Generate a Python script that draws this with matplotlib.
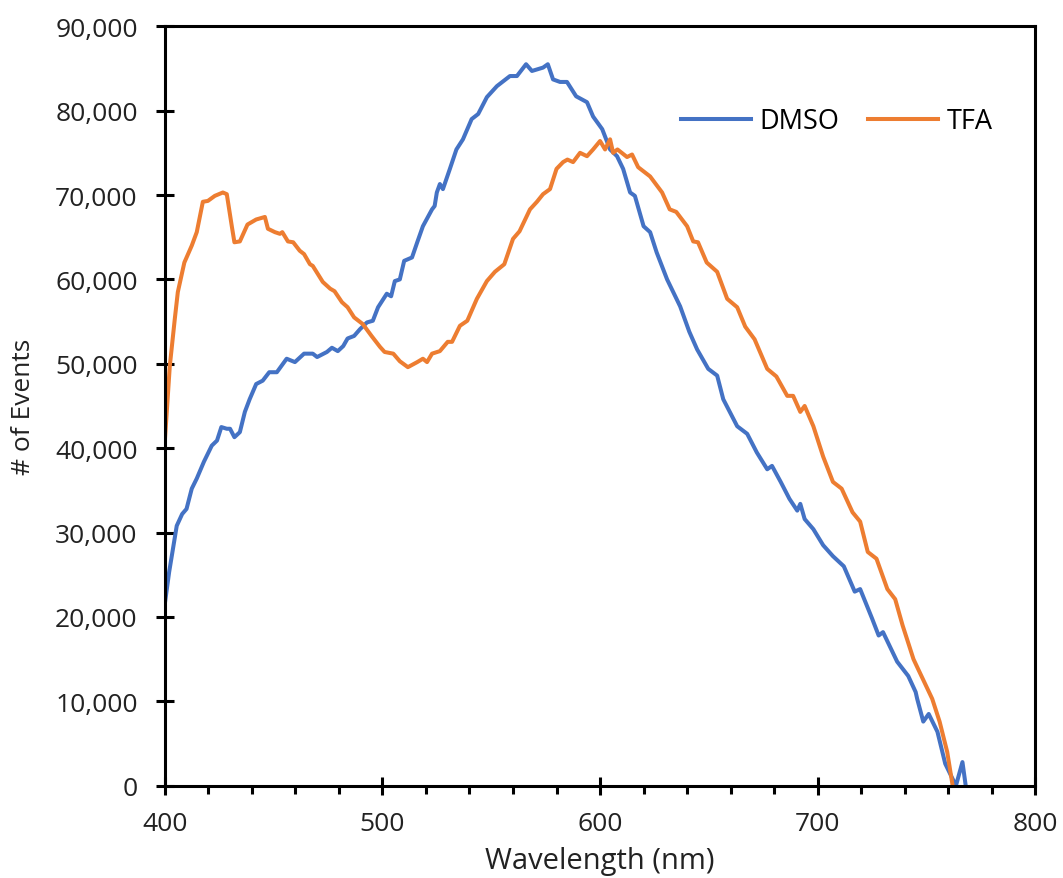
import numpy as np
import matplotlib
matplotlib.use("Agg")
import matplotlib.pyplot as plt
from matplotlib.ticker import MultipleLocator, FuncFormatter

# DMSO curve
dmso_nm = [400, 402, 405.5, 408, 410, 412.4, 414.7, 418, 421.6, 424, 426, 428.5, 430, 432, 434.5,
           436.8, 439, 442, 445, 448, 451.5, 456, 459.8, 464, 468, 470, 474.5, 476.8, 479.5, 482,
           484, 487, 489.7, 492.9, 495.6, 498, 502, 504, 505.7, 508, 510, 513.6, 516, 518.6, 522.8,
           524, 525, 526.4, 527.8, 531, 534, 537, 541, 544, 548, 552.6, 558.6, 561.8, 566, 568.7,
           573.8, 576, 578.4, 581.6, 584.8, 589, 594, 596.8, 601, 604.6, 607.8, 610.6, 613.8, 616,
           620, 623, 626, 630.8, 636.8, 641, 644.6, 649.7, 653.8, 656.6, 663, 667.6, 672, 676.8,
           679, 683, 687, 690.6, 692, 694, 698, 702.5, 707, 712, 717, 719.5, 725, 728, 730, 736.5,
           741.6, 745, 745.7, 748.5, 751, 755, 758.6, 763.5, 766.5, 768]
dmso_counts = [21500, 25300, 30800, 32200, 32800, 35200, 36400, 38400, 40300, 40900, 42500, 42300,
               42300, 41300, 41900, 44300, 45800, 47600, 48000, 49000, 49000, 50600, 50200, 51200,
               51200, 50800, 51400, 51900, 51500, 52100, 53000, 53300, 54100, 54900, 55100, 56700,
               58300, 58000, 59800, 60000, 62200, 62600, 64400, 66300, 68300, 68700, 70300, 71300,
               70700, 73100, 75400, 76600, 79000, 79600, 81600, 82900, 84100, 84100, 85500, 84700,
               85100, 85500, 83700, 83400, 83400, 81700, 81000, 79300, 77800, 75400, 74600, 73100,
               70300, 69900, 66300, 65600, 63200, 60000, 56800, 53800, 51700, 49400, 48600, 45800,
               42600, 41700, 39500, 37500, 37900, 36000, 34000, 32600, 33400, 31600, 30400, 28500,
               27200, 26000, 23000, 23300, 19800, 17800, 18200, 14700, 13000, 11100, 10300, 7600,
               8500, 6400, 2600, 0, 2800, 0]

# TFA curve
tfa_nm = [400, 402.3, 404.6, 406, 409, 412.4, 414.7, 417.5, 419.8, 423, 426.7, 428.5, 430.8, 432,
          434.5, 438, 442, 446, 447.4, 450.6, 452.9, 454, 456.6, 459, 462, 464, 466.7, 468, 472.6,
          476, 478, 481.4, 484, 487, 491, 495, 498.9, 501, 505, 508, 511.7, 516, 518.6, 520.5,
          522.8, 526.4, 530, 532, 535.6, 539, 543.4, 548, 551.7, 556, 560, 563, 567.8, 571, 573.8,
          577, 580, 583, 585, 587.6, 590.8, 594, 596.8, 600, 602.3, 604.6, 606, 608, 612.4, 614.7,
          617.5, 623, 628.5, 632, 635, 640, 642.8, 645, 649, 653.8, 658.4, 663, 666.7, 671, 676.8,
          681, 686, 688.7, 692, 694, 698, 702.5, 707, 711, 716, 719.5, 723, 727, 732, 735.6, 739,
          744, 746, 752.6, 756, 759.5, 762]
tfa_counts = [40700, 49700, 55300, 58500, 62000, 64000, 65600, 69200, 69300, 69900, 70300, 70100,
              66300, 64400, 64500, 66500, 67100, 67400, 66000, 65600, 65400, 65600, 64500, 64400,
              63400, 63000, 61800, 61600, 59700, 58900, 58600, 57300, 56700, 55500, 54700, 53300,
              52000, 51400, 51200, 50300, 49600, 50200, 50600, 50200, 51200, 51500, 52600, 52600,
              54500, 55100, 57700, 59800, 60900, 61800, 64800, 65700, 68300, 69200, 70100, 70700,
              73100, 73900, 74200, 73900, 75000, 74600, 75400, 76400, 75400, 76600, 75000, 75400,
              74500, 74800, 73300, 72200, 70300, 68300, 68000, 66300, 64500, 64400, 62000, 60900,
              57700, 56700, 54400, 52900, 49400, 48500, 46200, 46200, 44300, 45000, 42600, 39000,
              36000, 35200, 32400, 31300, 27700, 26900, 23300, 22100, 19000, 15000, 13900, 10300,
              7600, 4000, 0]

plt.rcParams['font.family'] = ['Open Sans', 'DejaVu Sans']

fig = plt.figure(figsize=(10.63, 8.79), dpi=100)
ax = fig.add_axes([0.155, 0.105, 0.819, 0.864])

ax.plot(dmso_nm, dmso_counts, color='#4472C4', lw=2.9, label='DMSO', solid_joinstyle='round')
ax.plot(tfa_nm, tfa_counts, color='#ED7D31', lw=2.9, label='TFA', solid_joinstyle='round')

ax.set_xlim(400, 800)
ax.set_ylim(0, 90000)
ax.xaxis.set_major_locator(MultipleLocator(100))
ax.xaxis.set_minor_locator(MultipleLocator(20))
ax.yaxis.set_major_locator(MultipleLocator(10000))
ax.yaxis.set_major_formatter(FuncFormatter(lambda v, p: f"{int(v):,}"))

for s in ax.spines.values():
    s.set_linewidth(2.2)
    s.set_color('black')
ax.tick_params(axis='both', which='major', direction='inout', length=13, width=2.2,
               labelsize=19, colors='black', labelcolor='#222222')
ax.tick_params(axis='x', which='minor', direction='out', length=6, width=2.2)
ax.tick_params(axis='x', which='major', pad=12)
ax.tick_params(axis='y', which='major', pad=13)

ax.set_xlabel('Wavelength (nm)', fontsize=21, color='#222222')
ax.set_ylabel('# of Events', fontsize=19, color='#222222')
ax.xaxis.set_label_coords(0.5, -0.079)
ax.yaxis.set_label_coords(-0.1475, 0.5)

ax.legend(loc='center left', bbox_to_anchor=(0.565, 0.875), ncol=2, frameon=False,
          fontsize=19.5, handlelength=2.6, columnspacing=1.05, handletextpad=0.3)

fig.savefig('out.png', dpi=100)
